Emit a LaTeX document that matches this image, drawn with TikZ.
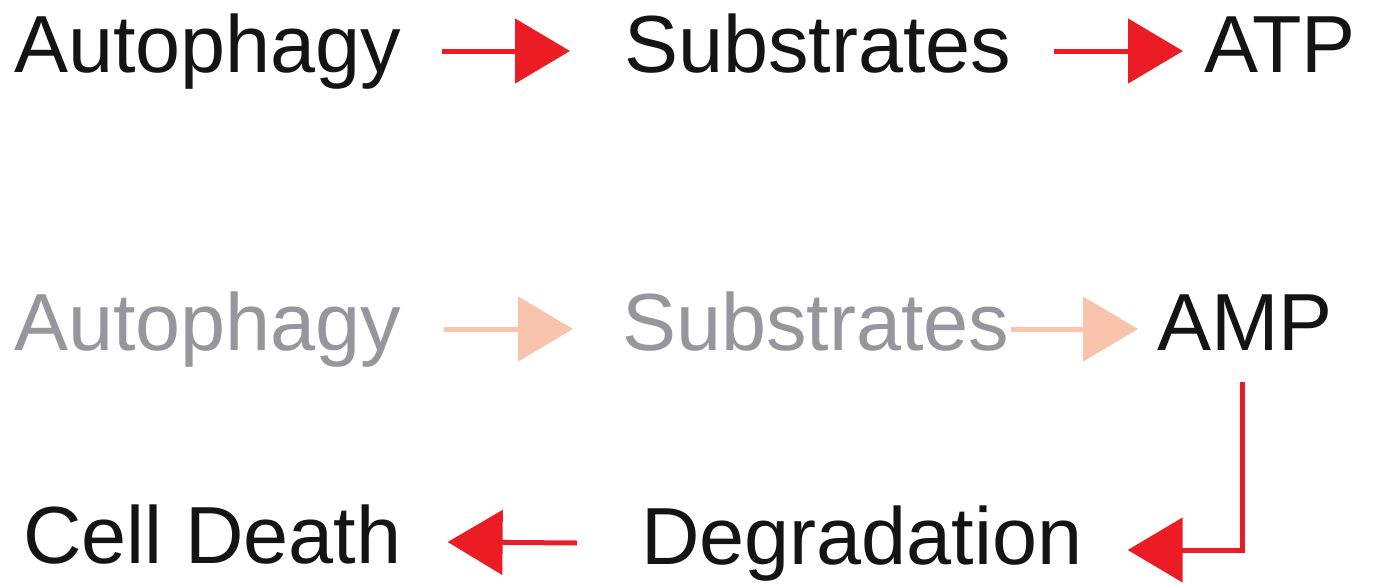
\documentclass[tikz,border=0pt]{standalone}
\usepackage{fontspec}
\setmainfont{Liberation Sans}
\usetikzlibrary{arrows.meta}
\definecolor{arrred}{RGB}{236,28,36}
\definecolor{arrpale}{RGB}{249,196,172}
\definecolor{txtdark}{RGB}{20,20,20}
\definecolor{txtpale}{RGB}{150,150,156}
\begin{document}
\begin{tikzpicture}[x=1pt,y=-1pt,
  lbl/.style={anchor=base west,inner sep=0pt,text height=59pt,text depth=17pt,
    font=\fontsize{81}{96}\selectfont,text=txtdark},
  palelbl/.style={lbl,text=txtpale},
  arr/.style={line width=5pt,draw=arrred,
    -{Triangle[length=55pt,width=64pt,fill=arrred]}},
  palearr/.style={arr,draw=arrpale,
    -{Triangle[length=55pt,width=64pt,fill=arrpale]}}]
\useasboundingbox (0,0) rectangle (1373,584);
\fill[white] (0,0) rectangle (1373,584);
% top row
\node[lbl] (aut1) at (14,72) {Autophagy};
\node[lbl] (sub1) at (624,72) {Substrates};
\node[lbl] (atp)  at (1204,72) {ATP};
% middle row
\node[palelbl] (aut2) at (14,350) {Autophagy};
\node[palelbl] (sub2) at (622,350) {Substrates};
\node[lbl] (amp) at (1157,350) {AMP};
% bottom row
\node[lbl] (deg)   at (641,564) {Degradation};
\node[lbl] (death) at (23,563) {Cell Death};
% connectors
\draw[arr] ([xshift=40pt]aut1.east) -- ([xshift=-54pt]sub1.west);
\draw[arr] ([xshift=42pt]sub1.east) -- ([xshift=-21pt]atp.west);
\draw[palearr] ([xshift=42pt]aut2.east) -- ([xshift=-49pt]sub2.west);
\draw[palearr] ([xshift=1pt]sub2.east) -- ([xshift=-19pt]amp.west);
\draw[arr] ([shift={(-2,15)}]amp.south) |- ([shift={(45,7)}]deg.east);
\draw[arr] ([xshift=-64pt]deg.west) -- ([xshift=46pt]death.east);
\end{tikzpicture}
\end{document}
